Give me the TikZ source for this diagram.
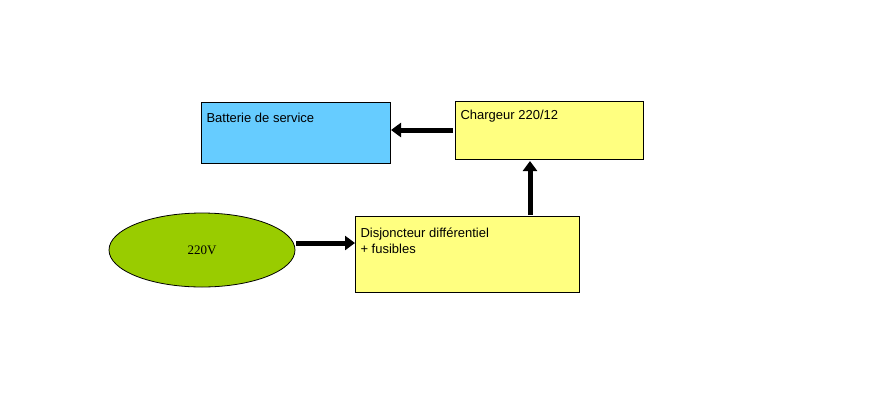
\documentclass[tikz,border=0pt]{standalone}
\usepackage{fontspec}
\setmainfont{Liberation Sans}
\newfontfamily\timesf{Liberation Serif}
\usetikzlibrary{shapes.geometric,arrows.meta}
\definecolor{bblue}{HTML}{66CCFF}
\definecolor{byel}{HTML}{FFFF80}
\definecolor{bgreen}{HTML}{99CC00}
\begin{document}
\begin{tikzpicture}[x=1pt,y=-1pt,
  boxst/.style={draw=black,line width=0.8pt,anchor=north west,inner sep=0pt},
  lbl/.style={anchor=north west,font=\fontsize{13}{16}\selectfont,align=left},
  arr/.style={line width=5pt,-{Triangle[length=10pt,width=14pt]}}]
\useasboundingbox (0,0) rectangle (886,413);
\node[boxst,fill=bblue,minimum width=189pt,minimum height=61pt] (bat) at (201,102) {};
\node[lbl] at (203,110) {Batterie de service};
\node[boxst,fill=byel,minimum width=188pt,minimum height=58pt] (chg) at (455,101) {};
\node[lbl] at (457,107) {Chargeur 220/12};
\node[boxst,fill=byel,minimum width=224pt,minimum height=76pt] (dis) at (355,216) {};
\node[lbl] at (357,224) {Disjoncteur différentiel\\+ fusibles};
\node[ellipse,draw=black,line width=0.8pt,fill=bgreen,minimum width=186pt,minimum height=74pt,font=\timesf\fontsize{13}{16}\selectfont] (src) at (202,250) {220V};
\coordinate (c1) at (453,130);
\coordinate (c2) at (391,130);
\draw[arr] (c1) -- (c2);
\coordinate (d1) at (530,215);
\coordinate (d2) at (530,161);
\draw[arr] (d1) -- (d2);
\coordinate (e1) at (296,243);
\coordinate (e2) at (355,243);
\draw[arr] (e1) -- (e2);
\end{tikzpicture}
\end{document}
